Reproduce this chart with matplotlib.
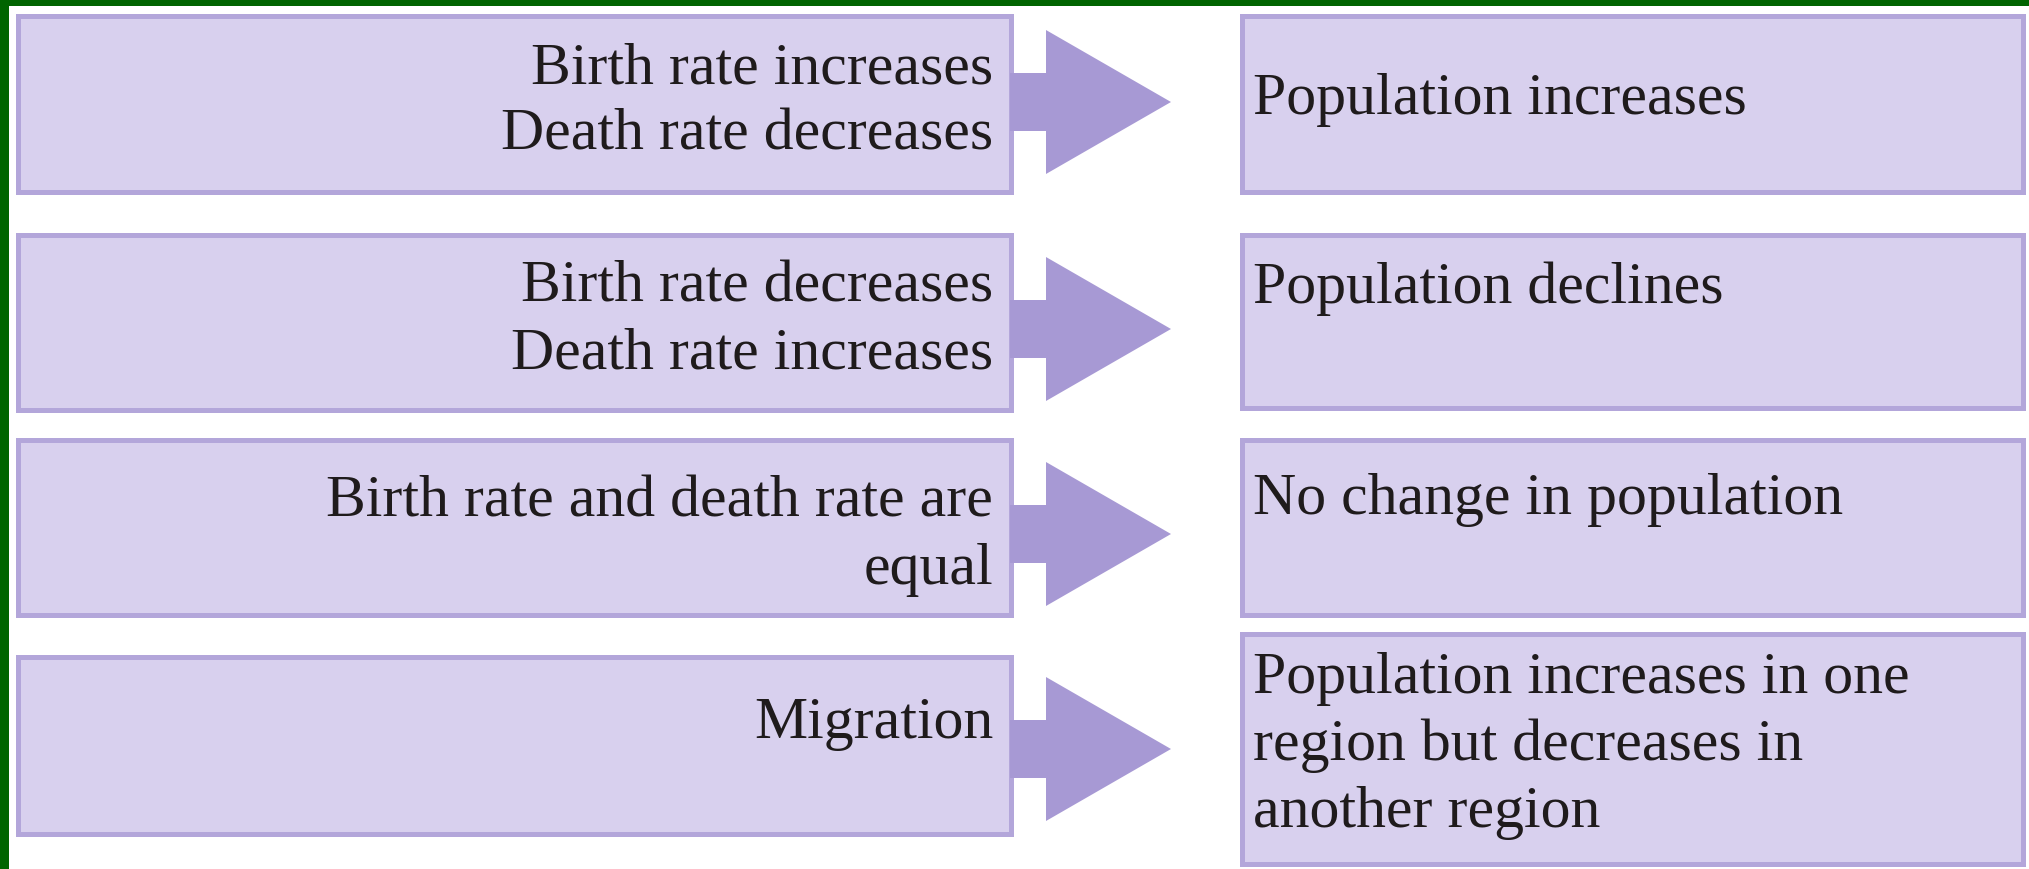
import matplotlib
matplotlib.use('Agg')
import matplotlib.pyplot as plt
from matplotlib.patches import Rectangle, FancyArrow

# 原因 -> 結果 の対応表
causes = [
    "Birth rate increases\nDeath rate decreases",
    "Birth rate decreases\nDeath rate increases",
    "Birth rate and death rate are\nequal",
    "Migration",
]
effects = [
    "Population increases",
    "Population declines",
    "No change in population",
    "Population increases in one\nregion but decreases in\nanother region",
]

# 各行の箱 (上端, 下端) ピクセル
left_rows = [(14, 195), (233, 413), (438, 618), (655, 837)]
right_rows = [(14, 195), (233, 411), (438, 618), (632, 867)]
arrow_mid = [103, 330, 535, 750]
cause_base = [83, 302, 517, 738]
effect_base = [114, 303, 514, 693]

W, H = 2029, 870
FILL = '#D8D0EE'
EDGE = '#B3A6DA'
ARROW = '#A799D4'
GREEN = '#006400'
TXT = '#1F1B1C'
LINE_GAP = 67
BW = 5  # 枠線の太さ(px)

fig = plt.figure(figsize=(W / 100, H / 100), dpi=100)
ax = fig.add_axes([0, 0, 1, 1])
ax.set_xlim(0, W)
ax.set_ylim(H, 0)
ax.axis('off')

# 緑の縁取り
ax.add_patch(Rectangle((0, 0), 9, H, color=GREEN, lw=0))
ax.add_patch(Rectangle((0, 0), W, 7, color=GREEN, lw=0))

def box(x0, x1, y0, y1):
    ax.add_patch(Rectangle((x0 + BW / 2, y0 + BW / 2), x1 - x0 - BW, y1 - y0 - BW,
                           facecolor=FILL, edgecolor=EDGE, lw=BW * 0.72))

def lines(x, y0, s, ha):
    for i, t in enumerate(s.split('\n')):
        ax.text(x, y0 + i * LINE_GAP, t, ha=ha, va='baseline', fontsize=43,
                family='Liberation Serif', color=TXT)

for i in range(len(causes)):
    box(15, 1013, *left_rows[i])
    box(1239, 2025, *right_rows[i])
    ax.add_patch(FancyArrow(1010, arrow_mid[i], 161, 0, width=58, head_width=144,
                            head_length=125, length_includes_head=True,
                            facecolor=ARROW, edgecolor='none'))
    lines(993, cause_base[i], causes[i], 'right')
    lines(1253, effect_base[i], effects[i], 'left')

fig.savefig('out.png', dpi=100, facecolor='white')
